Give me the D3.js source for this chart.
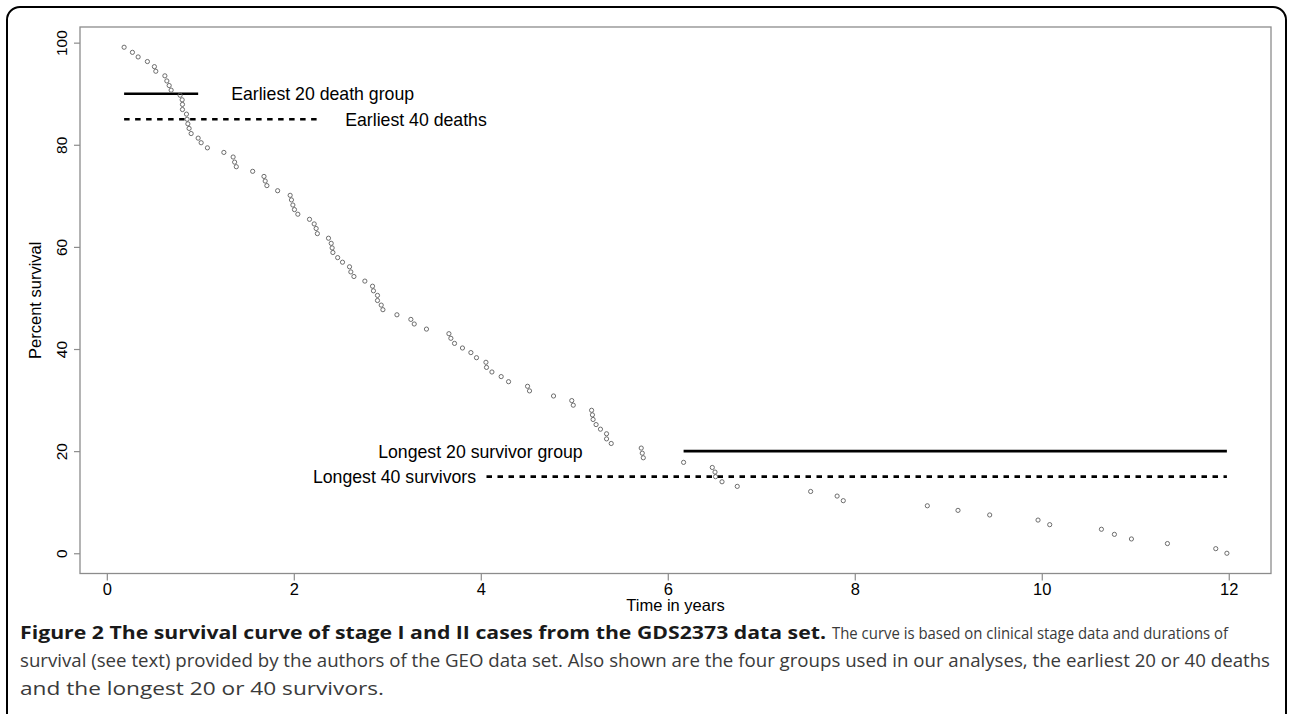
<!DOCTYPE html>
<html>
<head>
<meta charset="utf-8">
<script src="https://cdn.jsdelivr.net/npm/d3@7"></script>
<style>
body { margin: 0; background: #fff; }
svg { display: block; font-family: "Liberation Sans", Arial, sans-serif; }
.caption { font-family: "Open Sans", sans-serif; font-size: 17.5px; }
</style>
</head>
<body>
<svg width="1290" height="714"></svg>
<script>
// time of each death (years)
var times = [
    0.185, 0.274, 0.335, 0.434, 0.509, 0.524, 0.621, 0.642, 0.667, 0.688,
    0.784, 0.806, 0.809, 0.809, 0.852, 0.859, 0.867, 0.880, 0.902, 0.977,
    1.009, 1.076, 1.252, 1.351, 1.367, 1.385, 1.560, 1.681, 1.694, 1.712,
    1.827, 1.961, 1.975, 1.990, 2.007, 2.043, 2.168, 2.218, 2.239, 2.252,
    2.371, 2.400, 2.410, 2.418, 2.469, 2.521, 2.596, 2.610, 2.643, 2.760,
    2.842, 2.852, 2.895, 2.895, 2.935, 2.953, 3.103, 3.252, 3.288, 3.419,
    3.659, 3.680, 3.719, 3.804, 3.894, 3.954, 4.055, 4.061, 4.119, 4.218,
    4.297, 4.500, 4.521, 4.778, 4.973, 4.989, 5.185, 5.194, 5.201, 5.233,
    5.280, 5.345, 5.345, 5.395, 5.716, 5.727, 5.738, 6.169, 6.476, 6.505,
    6.511, 6.580, 6.743, 7.528, 7.811, 7.877, 8.776, 9.104, 9.443, 9.960,
    10.085, 10.638, 10.777, 10.959, 11.344, 11.861, 11.980
];

// percent still alive after each death
var survival = [
    99.1, 98.1, 97.2, 96.3, 95.3, 94.4, 93.5, 92.5, 91.6, 90.7,
    89.7, 88.8, 87.9, 86.9, 86.0, 85.0, 84.1, 83.2, 82.2, 81.3,
    80.4, 79.4, 78.5, 77.6, 76.6, 75.7, 74.8, 73.8, 72.9, 72.0,
    71.0, 70.1, 69.2, 68.2, 67.3, 66.4, 65.4, 64.5, 63.6, 62.6,
    61.7, 60.7, 59.8, 58.9, 57.9, 57.0, 56.1, 55.1, 54.2, 53.3,
    52.3, 51.4, 50.5, 49.5, 48.6, 47.7, 46.7, 45.8, 44.9, 43.9,
    43.0, 42.1, 41.1, 40.2, 39.3, 38.3, 37.4, 36.4, 35.5, 34.6,
    33.6, 32.7, 31.8, 30.8, 29.9, 29.0, 28.0, 27.1, 26.2, 25.2,
    24.3, 23.4, 22.4, 21.5, 20.6, 19.6, 18.7, 17.8, 16.8, 15.9,
    15.0, 14.0, 13.1, 12.1, 11.2, 10.3, 9.3, 8.4, 7.5, 6.5,
    5.6, 4.7, 3.7, 2.8, 1.9, 0.9, 0.0
];

var xTicks = [0, 2, 4, 6, 8, 10, 12];
var yTicks = [0, 20, 40, 60, 80, 100];

// the four groups: label, level on the y axis, first and last case (index into times)
var groupLabels = ["Earliest 20 death group", "Earliest 40 deaths", "Longest 20 survivor group", "Longest 40 survivors"];
var groupLevels = [90, 85, 20, 15];
var groupFirst = [0, 0, 87, 67];
var groupLast = [19, 39, 106, 106];

var points = times.map(function(t, i) { return { t: t, p: survival[i] }; });
var groups = groupLabels.map(function(l, i) {
    return { label: l, level: groupLevels[i], from: times[groupFirst[i]], to: times[groupLast[i]] };
});

var svg = d3.select("svg");

// plot region like R: data range widened by 4% each side
function pad(e) {
    var d = (e[1] - e[0]) * 0.04;
    return [e[0] - d, e[1] + d];
}
var plotLeft = 80, plotRight = 1271, plotTop = 27, plotBottom = 573.5;
var xScale = d3.scaleLinear().domain(pad(d3.extent(times))).range([plotLeft, plotRight]);
var yScale = d3.scaleLinear().domain(pad(d3.extent(survival))).range([plotBottom, plotTop]);

// outer frame of the figure
svg.append("rect")
    .attr("x", 7).attr("y", 7)
    .attr("width", 1279).attr("height", 760)
    .attr("rx", 13)
    .attr("fill", "none")
    .attr("stroke", "#000")
    .attr("stroke-width", 2);

var gx = svg.append("g")
    .attr("transform", "translate(0," + plotBottom + ")")
    .call(d3.axisBottom(xScale).tickValues(xTicks).tickSize(7).tickPadding(3));
gx.select(".domain").remove();

var gy = svg.append("g")
    .attr("transform", "translate(" + plotLeft + ",0)")
    .call(d3.axisLeft(yScale).tickValues(yTicks).tickSize(6));
gy.select(".domain").remove();

svg.selectAll(".tick line").attr("stroke", "#8c8c8c").attr("stroke-width", 1.2);
svg.selectAll(".tick text")
    .attr("font-family", "Liberation Sans, Arial, sans-serif")
    .attr("font-size", 16.5)
    .attr("fill", "#000");

// y labels are turned on their side, as R draws them
gy.selectAll("text")
    .attr("x", 0)
    .attr("dy", null)
    .attr("font-size", 15.5)
    .attr("text-anchor", "middle")
    .attr("transform", "translate(-13.5,0) rotate(-90)");

svg.append("rect")
    .attr("x", plotLeft).attr("y", plotTop)
    .attr("width", plotRight - plotLeft).attr("height", plotBottom - plotTop)
    .attr("fill", "none")
    .attr("stroke", "#8c8c8c")
    .attr("stroke-width", 1.3);

svg.append("text")
    .attr("x", (plotLeft + plotRight) / 2).attr("y", 611)
    .attr("text-anchor", "middle")
    .attr("font-size", 16.5)
    .text("Time in years");

svg.append("text")
    .attr("transform", "translate(41," + (plotTop + plotBottom) / 2 + ") rotate(-90)")
    .attr("text-anchor", "middle")
    .attr("font-size", 16.5)
    .text("Percent survival");

// group segments
svg.selectAll(".group")
    .data(groups)
    .enter()
    .append("line")
    .attr("class", "group")
    .attr("x1", (d) => xScale(d.from))
    .attr("x2", (d) => xScale(d.to))
    .attr("y1", (d) => yScale(d.level))
    .attr("y2", (d) => yScale(d.level))
    .attr("stroke", "#000")
    .attr("stroke-width", 2.6)
    .attr("stroke-dasharray", (d, i) => i % 2 ? "5.5,5.5" : null);

// labels: the early ones sit right of their segment, the late ones left
var labelPos = [
    { t: 1.33, anchor: "start" },
    { t: 2.55, anchor: "start" },
    { t: 5.09, anchor: "end" },
    { t: 3.95, anchor: "end" }
];
svg.selectAll(".glabel")
    .data(groups)
    .enter()
    .append("text")
    .attr("class", "glabel")
    .attr("x", (d, i) => xScale(labelPos[i].t))
    .attr("y", (d) => yScale(d.level))
    .attr("dy", "0.36em")
    .attr("text-anchor", (d, i) => labelPos[i].anchor)
    .attr("font-size", 17.7)
    .text((d) => d.label);

svg.selectAll(".pt")
    .data(points)
    .enter()
    .append("circle")
    .attr("class", "pt")
    .attr("cx", (d) => xScale(d.t))
    .attr("cy", (d) => yScale(d.p))
    .attr("r", 2.1)
    .attr("fill", "none")
    .attr("stroke", "#5e5e5e")
    .attr("stroke-width", 0.9);

// figure caption
var cap = svg.append("g").attr("class", "caption");
cap.append("text")
    .attr("x", 20).attr("y", 639)
    .attr("font-weight", "bold")
    .attr("fill", "#1a1a1a")
    .attr("textLength", 806)
    .attr("lengthAdjust", "spacingAndGlyphs")
    .text("Figure 2 The survival curve of stage I and II cases from the GDS2373 data set.");
cap.append("text")
    .attr("x", 832).attr("y", 639)
    .attr("fill", "#3a3a3a")
    .attr("font-size", "16px")
    .attr("textLength", 396)
    .attr("lengthAdjust", "spacingAndGlyphs")
    .text("The curve is based on clinical stage data and durations of");
cap.append("text")
    .attr("x", 20).attr("y", 667)
    .attr("fill", "#3a3a3a")
    .attr("textLength", 1250)
    .attr("lengthAdjust", "spacingAndGlyphs")
    .text("survival (see text) provided by the authors of the GEO data set. Also shown are the four groups used in our analyses, the earliest 20 or 40 deaths");
cap.append("text")
    .attr("x", 20).attr("y", 695)
    .attr("fill", "#3a3a3a")
    .attr("textLength", 364)
    .attr("lengthAdjust", "spacingAndGlyphs")
    .text("and the longest 20 or 40 survivors.");
</script>
</body>
</html>
